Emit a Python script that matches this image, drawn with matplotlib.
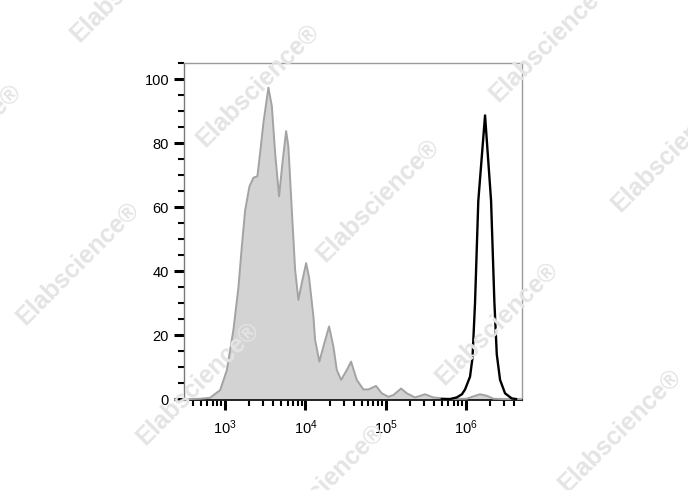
import numpy as np
import matplotlib
matplotlib.use("Agg")
import matplotlib.pyplot as plt
from matplotlib.ticker import LogLocator, NullFormatter, MultipleLocator, LogFormatterSciNotation

plt.rcParams['font.family'] = ['Liberation Sans', 'DejaVu Sans']
plt.rcParams['mathtext.fontset'] = 'custom'
plt.rcParams['mathtext.rm'] = 'Liberation Sans'

# Gray (control) histogram: log10 intensity, % of max
gray_log = [2.49, 2.564, 2.689, 2.813, 2.938, 3.021, 3.103, 3.166, 3.208, 3.249, 3.303, 3.352,
            3.402, 3.436, 3.477, 3.539, 3.582, 3.623, 3.672, 3.714, 3.760, 3.788, 3.831,
            3.872, 3.913, 3.955, 4.009, 4.046, 4.100, 4.121, 4.174, 4.224, 4.295, 4.349,
            4.391, 4.445, 4.516, 4.569, 4.640, 4.722, 4.785, 4.880, 4.951, 5.034, 5.096,
            5.192, 5.263, 5.366, 5.491, 5.594, 5.802, 6.010, 6.088, 6.176, 6.263, 6.341,
            6.462, 6.70]
gray_val = [0.0, 0.0, 0.1, 0.4, 2.8, 9.0, 21.6, 35.0, 47.7, 59.0, 66.5, 69.2,
            69.7, 77.0, 86.4, 97.4, 91.6, 77.0, 63.4, 73.9, 83.8, 79.0, 59.0,
            40.4, 31.0, 36.3, 42.5, 38.0, 25.8, 18.5, 11.7, 16.4, 22.7, 16.4,
            9.1, 6.0, 9.1, 11.7, 6.0, 3.0, 3.0, 4.1, 1.8, 0.7, 1.25,
            3.3, 1.8, 0.5, 1.5, 0.5, 0.0, 0.1, 0.8, 1.5, 1.0, 0.1,
            0.0, 0.0]

# Black (stained) histogram
black_log = [5.70, 5.802, 5.885, 5.95, 5.989, 6.051, 6.082, 6.113, 6.154, 6.238,
             6.313, 6.354, 6.384, 6.425, 6.487, 6.570, 6.624]
black_val = [0.0, 0.0, 0.5, 1.5, 3.0, 7.0, 13.0, 30.0, 62.0, 88.7,
             62.0, 30.5, 14.0, 6.0, 1.8, 0.2, 0.0]

y_ticks = [0, 20, 40, 60, 80, 100]

W, H = 688, 490
fig = plt.figure(figsize=(W / 100, H / 100), dpi=100)
ax = fig.add_axes([184.3 / W, 1 - 400 / H, (521.7 - 184.3) / W, (400 - 63.3) / H])

gx = 10 ** np.array(gray_log)
bx = 10 ** np.array(black_log)
ax.fill_between(gx, gray_val, 0, facecolor='#d3d3d3', edgecolor='none', zorder=2)
ax.plot(gx, gray_val, color='#a3a3a3', lw=1.4, zorder=3)
ax.plot(bx, black_val, color='black', lw=1.7, zorder=4)

ax.set_xscale('log')
ax.set_xlim(310, 4.95e6)
ax.set_ylim(-0.3, 105)

ax.xaxis.set_major_locator(LogLocator(base=10, numticks=10))
ax.xaxis.set_minor_locator(LogLocator(base=10, subs=np.arange(2, 10), numticks=20))
ax.xaxis.set_major_formatter(LogFormatterSciNotation())
ax.xaxis.set_minor_formatter(NullFormatter())
ax.set_yticks(y_ticks)
ax.yaxis.set_minor_locator(MultipleLocator(5))

ax.tick_params(axis='both', which='major', direction='out', length=7, width=2.2,
               color='black', labelsize=10.5, pad=4)
ax.tick_params(axis='x', which='major', pad=6)
ax.tick_params(axis='both', which='minor', direction='out', length=4, width=1.5, color='black')

for s in ['top', 'right']:
    ax.spines[s].set_color('#9a9a9a')
    ax.spines[s].set_linewidth(1.0)
ax.spines['left'].set_color('#7a7a7a')
ax.spines['left'].set_linewidth(1.0)
ax.spines['bottom'].set_color('#222222')
ax.spines['bottom'].set_linewidth(1.4)

# Watermarks
marks = [(132, -20), (258, 85), (-40, 145), (378, 200), (551, 40), (673, 150),
         (78, 263), (198, 383), (497, 323), (620, 430), (323, 485)]
for (px, py) in marks:
    fig.text(px / W, 1 - py / H, 'Elabscience®', rotation=45, fontsize=18,
             fontweight='bold', color='#e4e4e4', ha='center', va='center',
             rotation_mode='anchor', zorder=10)

fig.savefig('out.png', dpi=100)
